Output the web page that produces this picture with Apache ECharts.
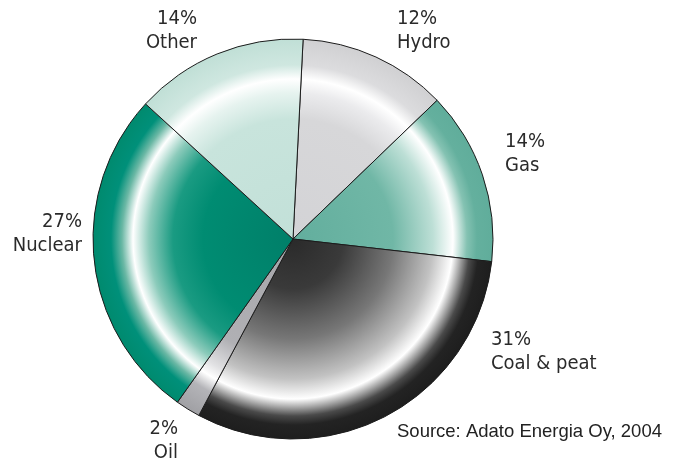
<!DOCTYPE html>
<html>
<head>
<meta charset="utf-8">
<script src="https://cdn.jsdelivr.net/npm/echarts@6/dist/echarts.min.js"></script>
<style>
html,body{margin:0;padding:0;background:#fff;}
#chart{width:679px;height:462px;}
</style>
</head>
<body>
<div id="chart"></div>
<script>
// ---- data ----
const categories = ['Hydro', 'Gas', 'Coal & peat', 'Oil', 'Nuclear', 'Other'];
const shares = [12, 14, 31, 2, 27, 14];
const sourceText = 'Source: Adato Energia Oy, 2004';

// ---- layout / style ----
const CX = 293, CY = 239, R = 200;
const gradStops = {
  'Hydro': [[0,'#d3d3d6'],[0.6,'#d7d7d9'],[0.73,'#ebebed'],[0.8,'#ffffff'],[0.87,'#dcdcde'],[1,'#d0d0d2']],
  'Gas': [[0,'#62ae9d'],[0.5,'#70b7a6'],[0.7,'#bddfd6'],[0.8,'#ffffff'],[0.87,'#84c2b2'],[0.92,'#64b09e'],[1,'#60ad9b']],
  'Coal & peat': [[0,'#2a2a2a'],[0.25,'#3a3a3a'],[0.5,'#777777'],[0.7,'#c2c2c2'],[0.8,'#ffffff'],[0.845,'#a0a0a0'],[0.885,'#4a4a4a'],[0.93,'#232323'],[1,'#1e1e1e']],
  'Oil': [[0,'#a6a6aa'],[0.6,'#b0b0b4'],[0.74,'#e0e0e2'],[0.8,'#ffffff'],[0.87,'#b4b4b8'],[1,'#a0a0a4']],
  'Nuclear': [[0,'#007f69'],[0.45,'#008c72'],[0.6,'#1a9b82'],[0.72,'#8ccbbb'],[0.8,'#ffffff'],[0.855,'#6bb8a5'],[0.91,'#00907a'],[1,'#008a6e']],
  'Other': [[0,'#c2e0d8'],[0.6,'#c8e4dc'],[0.73,'#e6f3ef'],[0.8,'#ffffff'],[0.87,'#cfe7e0'],[1,'#c0dfd6']]
};
// label anchor: [x, y, align]
const labelAnchor = {
  'Hydro': [397, 31, 'left'],
  'Gas': [505, 154, 'left'],
  'Coal & peat': [491, 352, 'left'],
  'Oil': [178, 441, 'right'],
  'Nuclear': [82, 234, 'right'],
  'Other': [197, 31, 'right']
};

function grad(name){
  return {
    type: 'radial', x: CX, y: CY, r: R, global: true,
    colorStops: gradStops[name].map(s => ({offset: s[0], color: s[1]}))
  };
}

const chart = echarts.init(document.getElementById('chart'), null, {renderer: 'canvas'});
chart.setOption({
  backgroundColor: '#ffffff',
  animation: false,
  series: [{
    type: 'pie',
    center: [CX, CY],
    radius: [0, R],
    startAngle: 87.1,
    clockwise: true,
    avoidLabelOverlap: false,
    data: categories.map((c, i) => ({
      name: c, value: shares[i],
      itemStyle: {color: grad(c), borderColor: '#1c1c1c', borderWidth: 1}
    })),
    label: {
      show: true,
      position: 'outside',
      formatter: p => p.value + '%\n' + p.name,
      fontFamily: "'DejaVu Sans Condensed', 'DejaVu Sans', sans-serif",
      fontSize: 20,
      lineHeight: 24,
      color: '#2a2a2a'
    },
    labelLine: {show: false},
    labelLayout: function (params) {
      const a = labelAnchor[categories[params.dataIndex]];
      return {x: a[0], y: a[1], align: a[2], verticalAlign: 'middle'};
    },
    emphasis: {disabled: true}
  }],
  graphic: [{
    type: 'text',
    left: 397, top: 422,
    style: {
      text: sourceText,
      fontFamily: "'Liberation Sans', Arial, sans-serif",
      fontSize: 18.5,
      fill: '#222222'
    }
  }]
});
</script>
</body>
</html>
